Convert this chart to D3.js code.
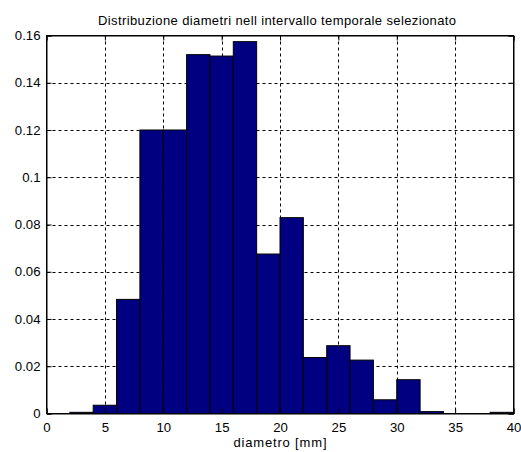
<!DOCTYPE html>
<html><head><meta charset="utf-8">
<script src="https://cdn.jsdelivr.net/npm/d3@7"></script>
<style>body{margin:0;background:#fff}svg{display:block}text{font-family:"Liberation Sans",Arial,sans-serif;fill:#000}</style>
</head><body><div id="c"></div>
<script>
const binEdges = [2,4,6,8,10,12,14,16,18,20,22,24,26,28,30,32,34,36,38,40];
const values = [0.0005,0.0035,0.0483,0.1200,0.1200,0.1519,0.1513,0.1574,0.0675,0.0829,0.0237,0.0287,0.0226,0.0058,0.0143,0.0008,0,0,0.0005];
const xTicks = [0,5,10,15,20,25,30,35,40];
const yTicks = [0,0.02,0.04,0.06,0.08,0.1,0.12,0.14,0.16];
const title = "Distribuzione diametri nell intervallo temporale selezionato";
const xLabel = "diametro [mm]";

const W=521,H=452, L=46.5, R=513.5, T=35.5, B=413.5;
const svg=d3.select("#c").append("svg").attr("width",W).attr("height",H);
const x=d3.scaleLinear().domain([0,40]).range([L,R]);
const y=d3.scaleLinear().domain([0,0.16]).range([B,T]);

// grid
const g=svg.append("g").attr("stroke","#000").attr("stroke-width",1).attr("stroke-dasharray","3,3");
xTicks.slice(1,-1).forEach(t=>g.append("line").attr("x1",Math.round(x(t))+0.5).attr("x2",Math.round(x(t))+0.5).attr("y1",T).attr("y2",B));
yTicks.slice(1,-1).forEach(t=>g.append("line").attr("y1",Math.round(y(t))+0.5).attr("y2",Math.round(y(t))+0.5).attr("x1",L).attr("x2",R));

// bars
svg.append("g").selectAll("rect").data(values).join("rect")
 .attr("x",(d,i)=>x(binEdges[i])).attr("width",(d,i)=>x(binEdges[i+1])-x(binEdges[i]))
 .attr("y",d=>y(d)).attr("height",d=>B-y(d))
 .attr("fill","#000080").attr("stroke","#000").attr("stroke-width",1);

// axes
svg.append("g").attr("transform",`translate(0,${B})`)
 .call(d3.axisBottom(x).tickValues(xTicks).tickSize(-5).tickPadding(9).tickFormat(d3.format("d")));
svg.append("g").attr("transform",`translate(${L},0)`)
 .call(d3.axisLeft(y).tickValues(yTicks).tickSize(-5).tickPadding(6).tickFormat(d=>d===0?"0":String(+d.toFixed(2))));
svg.append("g").attr("transform",`translate(0,${T})`).call(d3.axisTop(x).tickValues(xTicks).tickSize(-5).tickFormat(""));
svg.append("g").attr("transform",`translate(${R},0)`).call(d3.axisRight(y).tickValues(yTicks).tickSize(-5).tickFormat(""));
svg.selectAll(".domain").attr("stroke","#000");
svg.selectAll(".tick text").attr("font-size",13.2).style("font-family","'Liberation Sans',Arial,sans-serif");
svg.append("rect").attr("x",L).attr("y",T).attr("width",R-L).attr("height",B-T).attr("fill","none").attr("stroke","#000");

svg.append("text").attr("x",(L+R)/2-3).attr("y",25).attr("text-anchor","middle").attr("font-size",13).attr("textLength",358).attr("lengthAdjust","spacing").text(title);
svg.append("text").attr("x",(L+R)/2).attr("y",447).attr("text-anchor","middle").attr("font-size",13).attr("textLength",93).attr("lengthAdjust","spacing").text(xLabel);
</script></body></html>
